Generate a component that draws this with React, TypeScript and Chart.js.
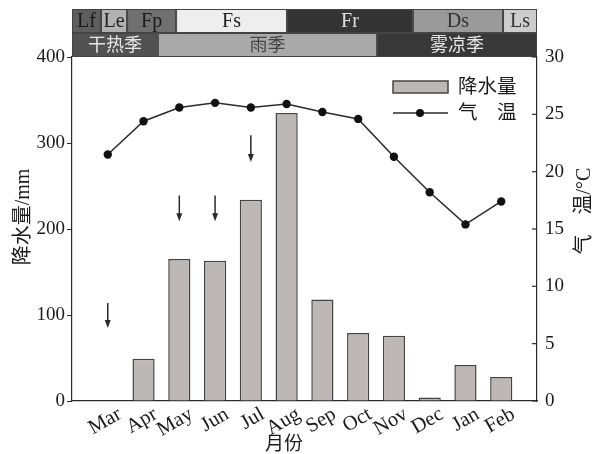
import React, { useEffect, useRef } from 'react';
import { Chart, registerables } from 'chart.js';

Chart.register(...registerables);

// ---- data ----
const months = ['', 'Mar', 'Apr', 'May', 'Jun', 'Jul', 'Aug', 'Sep', 'Oct', 'Nov', 'Dec', 'Jan', 'Feb', ''];
const precipitation = [null, 0, 49, 165, 163, 234, 335, 118, 79, 76, 4, 42, 28, null];
const temperature = [null, 21.5, 24.4, 25.6, 26.0, 25.6, 25.9, 25.2, 24.6, 21.3, 18.2, 15.4, 17.4, null];
const precipTicks = [0, 100, 200, 300, 400];
const tempTicks = [0, 5, 10, 15, 20, 25, 30];

const phaseLabels = ['Lf', 'Le', 'Fp', 'Fs', 'Fr', 'Ds', 'Ls'];
const phaseBounds = [0, 0.81, 1.54, 2.91, 6.01, 9.53, 12.05, 13];
const phaseFills = ['#5e5e5e', '#b2b2b2', '#707070', '#eeeeee', '#343434', '#9a9a9a', '#cdcdcd'];
const phaseTextColors = ['#1a1a1a', '#222222', '#1a1a1a', '#222222', '#e0e0e0', '#333333', '#333333'];

const seasonLabels = ['干热季', '雨季', '雾凉季'];
const seasonBounds = [0, 2.4, 8.53, 13];
const seasonFills = ['#525252', '#a9a9a9', '#383838'];
const seasonTextColors = ['#e6e6e6', '#444444', '#e6e6e6'];

const arrowMonths = ['Mar', 'May', 'Jun', 'Jul'];
const arrowTails = [114, 239, 239, 309];
const arrowTips = [85, 209, 209, 278];

const SERIF = '"Liberation Serif", "Noto Sans CJK SC", serif';
const BAR_FILL = '#bdb8b5';
const DARK = '#2a2a2a';

const overlayPlugin = {
  id: 'overlay',
  afterDraw(chart: any) {
    const { ctx, chartArea: ca, scales } = chart;
    const x = scales.x;
    const y = scales.y;
    const y1 = scales.y1;
    ctx.save();

    // ---- top bands ----
    const bTop = 9;
    const bMid = 33;
    const bBot = ca.top;
    ctx.textAlign = 'center';
    ctx.textBaseline = 'middle';
    phaseLabels.forEach((lab, i) => {
      const x0 = x.getPixelForValue(phaseBounds[i]);
      const x1 = x.getPixelForValue(phaseBounds[i + 1]);
      ctx.fillStyle = phaseFills[i];
      ctx.fillRect(x0, bTop, x1 - x0, bMid - bTop);
      ctx.strokeStyle = '#444';
      ctx.lineWidth = 1;
      ctx.strokeRect(x0 + 0.5, bTop + 0.5, x1 - x0 - 1, bMid - bTop - 1);
      ctx.fillStyle = phaseTextColors[i];
      ctx.font = '20px ' + SERIF;
      ctx.fillText(lab, (x0 + x1) / 2, (bTop + bMid) / 2 + 1);
    });
    seasonLabels.forEach((lab, i) => {
      const x0 = x.getPixelForValue(seasonBounds[i]);
      const x1 = x.getPixelForValue(seasonBounds[i + 1]);
      ctx.fillStyle = seasonFills[i];
      ctx.fillRect(x0, bMid, x1 - x0, bBot - bMid);
      ctx.strokeStyle = '#444';
      ctx.lineWidth = 1;
      ctx.strokeRect(x0 + 0.5, bMid + 0.5, x1 - x0 - 1, bBot - bMid - 1);
      ctx.fillStyle = seasonTextColors[i];
      ctx.font = '18px ' + SERIF;
      ctx.fillText(lab, (x0 + x1) / 2, (bMid + bBot) / 2 + 1);
    });

    // ---- inner ticks on right axis ----
    ctx.strokeStyle = DARK;
    ctx.lineWidth = 1.2;
    tempTicks.forEach((v) => {
      const py = y1.getPixelForValue(v);
      ctx.beginPath();
      ctx.moveTo(ca.right - 5, py);
      ctx.lineTo(ca.right, py);
      ctx.stroke();
    });

    // ---- arrows ----
    ctx.fillStyle = DARK;
    arrowMonths.forEach((m, i) => {
      const px = x.getPixelForValue(months.indexOf(m));
      const yt = y.getPixelForValue(arrowTails[i]);
      const yh = y.getPixelForValue(arrowTips[i]);
      ctx.beginPath();
      ctx.moveTo(px, yt);
      ctx.lineTo(px, yh - 6);
      ctx.lineWidth = 1.5;
      ctx.stroke();
      ctx.beginPath();
      ctx.moveTo(px - 3, yh - 8);
      ctx.lineTo(px + 3, yh - 8);
      ctx.lineTo(px, yh);
      ctx.closePath();
      ctx.fill();
    });

    // ---- x tick labels (rotated) ----
    ctx.fillStyle = '#1a1a1a';
    ctx.font = '20.5px ' + SERIF;
    months.forEach((m, i) => {
      if (!m) return;
      const px = x.getPixelForValue(i);
      ctx.save();
      ctx.translate(px + 7, ca.bottom + 3);
      ctx.rotate(-Math.PI / 6);
      ctx.textAlign = 'right';
      ctx.textBaseline = 'top';
      ctx.fillText(m, 0, 0);
      ctx.restore();
    });

    // ---- axis titles ----
    ctx.font = '20px ' + SERIF;
    ctx.textAlign = 'center';
    ctx.textBaseline = 'middle';
    ctx.fillStyle = '#1a1a1a';
    ctx.save();
    ctx.translate(24, 217);
    ctx.rotate(-Math.PI / 2);
    ctx.fillText('降水量/mm', 0, 0);
    ctx.restore();
    ctx.save();
    ctx.translate(585, 211);
    ctx.rotate(-Math.PI / 2);
    ctx.fillText('气\u3000温/°C', 0, 0);
    ctx.restore();
    ctx.font = '19px ' + SERIF;
    ctx.fillText('月份', 284, 445);

    // ---- legend ----
    ctx.fillStyle = BAR_FILL;
    ctx.fillRect(393, 81, 55, 12);
    ctx.strokeStyle = '#444';
    ctx.lineWidth = 1.5;
    ctx.strokeRect(393, 81, 55, 12);
    ctx.strokeStyle = DARK;
    ctx.lineWidth = 1.5;
    ctx.beginPath();
    ctx.moveTo(393, 113);
    ctx.lineTo(448, 113);
    ctx.stroke();
    ctx.fillStyle = '#111';
    ctx.beginPath();
    ctx.arc(420, 113, 4, 0, Math.PI * 2);
    ctx.fill();
    ctx.fillStyle = '#1a1a1a';
    ctx.font = '19.5px ' + SERIF;
    ctx.textAlign = 'left';
    ctx.fillText('降水量', 458, 88);
    ctx.fillText('气\u3000温', 458, 114);

    ctx.restore();
  },
};

export default function App() {
  const ref = useRef<HTMLCanvasElement | null>(null);
  useEffect(() => {
    if (!ref.current) return;
    const chart = new Chart(ref.current, {
      type: 'bar',
      data: {
        labels: months,
        datasets: [
          {
            type: 'line',
            label: '气温',
            data: temperature,
            yAxisID: 'y1',
            borderColor: DARK,
            borderWidth: 1.5,
            pointRadius: 4.2,
            pointBackgroundColor: '#111',
            pointBorderColor: '#111',
            pointBorderWidth: 0,
            tension: 0,
            order: 0,
          } as any,
          {
            type: 'bar',
            label: '降水量',
            data: precipitation,
            yAxisID: 'y',
            backgroundColor: BAR_FILL,
            borderColor: '#444',
            borderWidth: 1.5,
            categoryPercentage: 1,
            barPercentage: 0.62,
            order: 1,
          } as any,
        ],
      },
      options: {
        animation: false,
        responsive: true,
        maintainAspectRatio: false,
        layout: { padding: { top: 57, left: 0, right: 0, bottom: 0 } },
        plugins: { legend: { display: false }, tooltip: { enabled: false } },
        scales: {
          x: {
            type: 'category',
            offset: false,
            grid: { display: false },
            border: { display: true, color: DARK, width: 1.2 },
            ticks: { display: false },
            afterFit(s: any) {
              s.height = 53;
            },
          },
          y: {
            position: 'left',
            min: 0,
            max: 400,
            afterBuildTicks(s: any) {
              s.ticks = precipTicks.map((v) => ({ value: v }));
            },
            ticks: { color: '#1a1a1a', font: { family: SERIF, size: 19 }, padding: 2 },
            grid: { drawOnChartArea: false, drawTicks: true, tickLength: 5, color: DARK },
            border: { display: true, color: DARK, width: 1.2 },
            afterFit(s: any) {
              s.width = 72;
            },
          },
          y1: {
            position: 'right',
            min: 0,
            max: 30,
            afterBuildTicks(s: any) {
              s.ticks = tempTicks.map((v) => ({ value: v }));
            },
            ticks: { color: '#1a1a1a', font: { family: SERIF, size: 19 }, padding: 8 },
            grid: { drawOnChartArea: false, drawTicks: false },
            border: { display: true, color: DARK, width: 1.2 },
            afterFit(s: any) {
              s.width = 61;
            },
          },
        },
      } as any,
      plugins: [overlayPlugin],
    });
    return () => chart.destroy();
  }, []);

  return (
    <div style={{ position: 'absolute', left: 0, top: 0, width: 598, height: 454 }}>
      <canvas ref={ref} />
    </div>
  );
}
